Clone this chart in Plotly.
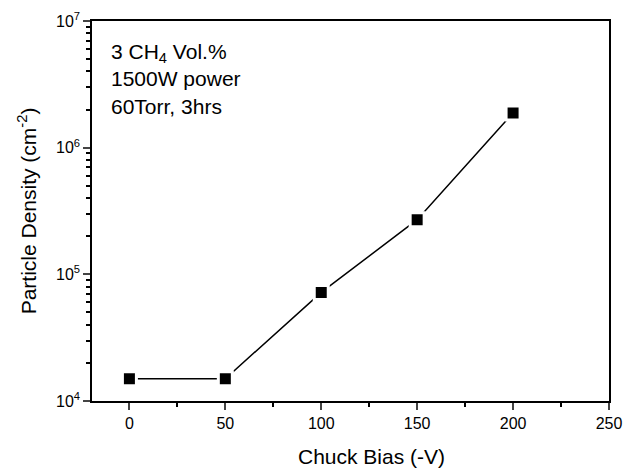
import plotly.graph_objects as go

chuck_bias = [0, 50, 100, 150, 200]
particle_density = [1.5e4, 1.5e4, 7.2e4, 2.7e5, 1.88e6]
x_ticks = [0, 50, 100, 150, 200, 250]
x_minor_ticks = [25, 75, 125, 175, 225]
y_ticks = [1e4, 1e5, 1e6, 1e7]
y_ticklabels = ["10<sup>4</sup>", "10<sup>5</sup>", "10<sup>6</sup>", "10<sup>7</sup>"]

font = "Liberation Sans, Arial, sans-serif"

fig = go.Figure()
fig.add_trace(go.Scatter(
    x=chuck_bias, y=particle_density, mode="lines+markers",
    line=dict(color="black", width=1.5),
    marker=dict(symbol="square", size=14, color="black",
                line=dict(color="white", width=3)),
    showlegend=False,
))

minor_y = [m * 10 ** e for e in range(4, 7) for m in range(2, 10)]

fig.update_layout(
    width=626, height=468, autosize=False,
    margin=dict(l=92, r=17, t=21, b=67),
    paper_bgcolor="white", plot_bgcolor="white",
    font=dict(family=font, size=16, color="black"),
    xaxis=dict(
        range=[-19.5, 250], tickvals=x_ticks, ticks="outside", ticklen=7,
        tickwidth=1.5, linecolor="black", linewidth=1.5, mirror=True,
        showgrid=False, zeroline=False, automargin=False,
        tickfont=dict(size=16),
        minor=dict(tickvals=x_minor_ticks, ticks="outside",
                   ticklen=4, tickwidth=1.5, tickcolor="black"),
    ),
    yaxis=dict(
        type="log", range=[4, 7], tickvals=y_ticks, ticktext=y_ticklabels,
        ticks="outside", ticklen=7, tickwidth=1.5, linecolor="black",
        linewidth=1.5, mirror=True, showgrid=False, zeroline=False,
        automargin=False,
        tickfont=dict(size=16),
        title=dict(text="Particle Density (cm<sup>-2</sup>)", font=dict(size=21), standoff=14),
        minor=dict(tickvals=minor_y, ticks="outside", ticklen=4,
                   tickwidth=1.5, tickcolor="black", showgrid=False),
    ),
)

fig.add_annotation(
    xref="paper", yref="paper", x=0.54, y=-0.145, xanchor="center", yanchor="middle",
    text="Chuck Bias (-V)", showarrow=False,
    font=dict(size=21, family=font, color="black"),
)

fig.add_annotation(
    xref="paper", yref="paper", x=0.033, y=0.955, xanchor="left", yanchor="top",
    text="3 CH<sub>4</sub> Vol.%<br>1500W power<br>60Torr, 3hrs",
    showarrow=False, align="left", font=dict(size=21, family=font, color="black"),
)

fig.write_html(
    "out.html",
    config={"displayModeBar": False, "responsive": False},
    post_script="document.body.style.margin='0';document.body.style.overflow='hidden';",
)
